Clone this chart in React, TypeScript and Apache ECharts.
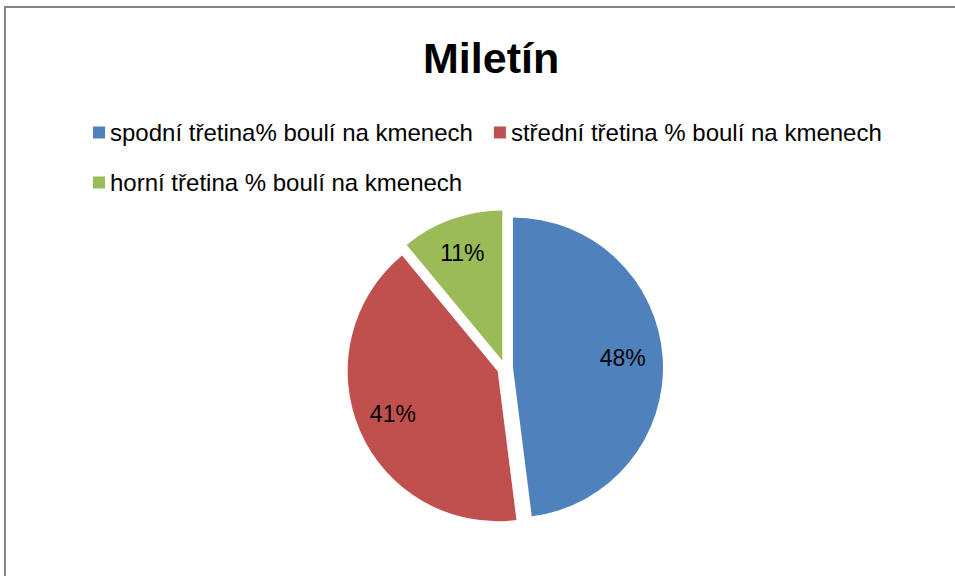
import React, { useEffect, useRef } from "react";
import * as echarts from "echarts";

const categories = [
  "spodní třetina% boulí na kmenech",
  "střední třetina % boulí na kmenech",
  "horní třetina % boulí na kmenech",
];
const values = [48, 41, 11];
const colors = ["#4F81BD", "#C0504D", "#9BBB59"];
const titleText = "Miletín";

export default function App() {
  const ref = useRef<HTMLDivElement>(null);
  useEffect(() => {
    if (!ref.current) return;
    const chart = echarts.init(ref.current, null, { renderer: "svg" });
    const font = "'Liberation Sans', Arial, sans-serif";
    chart.setOption({
      animation: false,
      backgroundColor: "#ffffff",
      title: {
        text: titleText,
        left: 418,
        top: 31,
        textStyle: { fontFamily: font, fontSize: 43, fontWeight: "bold", color: "#000" },
      },
      legend: {
        left: 88,
        top: 113,
        width: 840,
        itemWidth: 12,
        itemHeight: 12,
        itemGap: 21,
        icon: "rect",
        selectedMode: false,
        data: categories.map((c, i) => ({ name: c, itemStyle: { color: colors[i] } })),
        textStyle: { fontFamily: font, fontSize: 24, color: "#000", lineHeight: 29 },
      },
      graphic: [
        { type: "line", shape: { x1: 5, y1: 7, x2: 5, y2: 576 }, style: { stroke: "#868686", lineWidth: 2 } },
        { type: "line", shape: { x1: 4, y1: 7, x2: 955, y2: 7 }, style: { stroke: "#868686", lineWidth: 2 } },
      ],
      series: [
        {
          type: "pie",
          center: [505, 368],
          radius: 150,
          startAngle: 90,
          clockwise: true,
          selectedMode: "multiple",
          selectedOffset: 8,
          silent: true,
          z: 2,
          label: { show: false },
          labelLine: { show: false },
          data: categories.map((c, i) => ({
            name: c,
            value: values[i],
            selected: true,
            itemStyle: { color: colors[i] },
          })),
        },
        {
          type: "pie",
          center: [503, 366],
          radius: 234,
          startAngle: 90,
          clockwise: true,
          silent: true,
          z: 10,
          itemStyle: { color: "rgba(255,255,255,0)", borderWidth: 0 },
          label: {
            show: true,
            position: "inside",
            formatter: "{d}%",
            fontFamily: font,
            fontSize: 23,
            color: "#000",
          },
          labelLine: { show: false },
          data: categories.map((c, i) => ({ name: c, value: values[i] })),
        },
      ],
    });
    return () => chart.dispose();
  }, []);
  return (
    <div
      ref={ref}
      style={{ position: "fixed", left: 0, top: 0, width: 955, height: 576 }}
    />
  );
}
